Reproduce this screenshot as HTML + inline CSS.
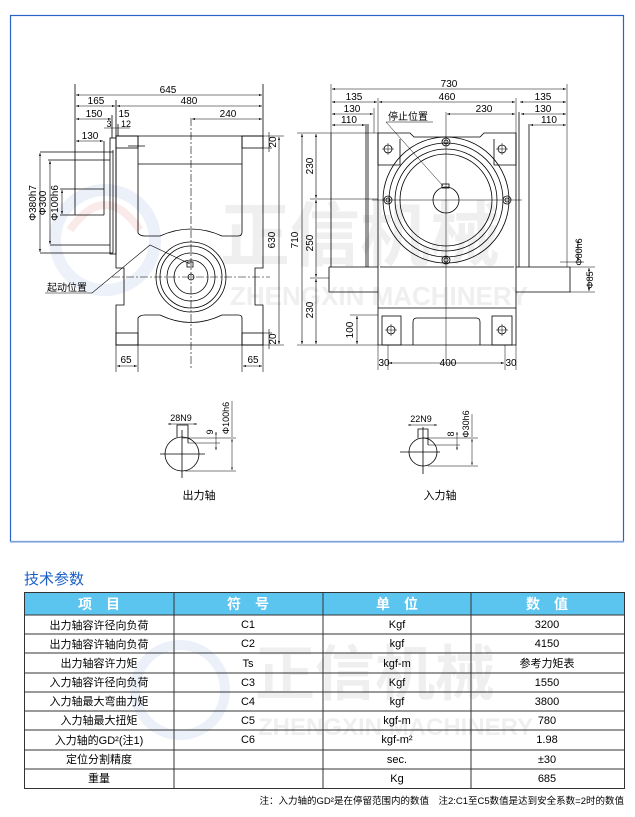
<!DOCTYPE html>
<html><head><meta charset="utf-8"><style>
html,body{margin:0;padding:0;background:#fff;}
body{width:635px;height:812px;position:relative;overflow:hidden;font-family:"Liberation Sans","Noto Sans CJK SC",sans-serif;}
svg text{font-family:"Liberation Sans","Noto Sans CJK SC",sans-serif;}
</style></head><body>
<svg width="635" height="812" viewBox="0 0 635 812" xmlns="http://www.w3.org/2000/svg">
<defs>
<marker id="a" viewBox="0 0 6 6" refX="6" refY="3" markerWidth="5" markerHeight="5" orient="auto-start-reverse"><path d="M0,1 L6,3 L0,5z" fill="#000"/></marker>
</defs>
<rect x="10.5" y="15.5" width="613" height="526" fill="none" stroke="#2a62c8" stroke-width="1.2"/>
<line x1="10" y1="542" x2="624" y2="542" stroke="#9bb8e6" stroke-width="1.5"/>
<g opacity="0.09">
<text x="220" y="260" font-size="70" font-weight="bold" fill="#555" font-family="'Noto Sans CJK SC',sans-serif">正信机械</text>
<text x="230" y="305" font-size="26" font-weight="bold" fill="#555">ZHENGXIN MACHINERY</text>
<circle cx="105" cy="240" r="50" fill="none" stroke="#2a62c8" stroke-width="12"/>
<path d="M70,230 Q105,180 140,230" fill="none" stroke="#d02020" stroke-width="8"/>
<text x="255" y="695" font-size="60" font-weight="bold" fill="#555" font-family="'Noto Sans CJK SC',sans-serif">正信机械</text>
<text x="258" y="735" font-size="24" font-weight="bold" fill="#555">ZHENGXIN MACHINERY</text>
<circle cx="180" cy="690" r="45" fill="none" stroke="#2a62c8" stroke-width="10"/>
</g>

<g stroke="#000" stroke-width="0.8" fill="none">
<path d="M116,136 H263 V268 H255 V305 H263 V345 H116 V305 H124 V268 H116 Z"/>
<rect x="116" y="136" width="22" height="12"/>
<rect x="242" y="136" width="21" height="12"/>
<rect x="116" y="333" width="22" height="12"/>
<rect x="242" y="333" width="21" height="12"/>
<path d="M138,136 V233 Q140,236 145,236 H160 Q191,222 222,236 H238 Q242,236 242,232 V136"/>
<line x1="138" y1="164" x2="242" y2="164"/>
<path d="M138,345 V318 Q140,315 145,315 H160 Q191,330 222,315 H238 Q242,315 242,318 V345"/>
<rect x="110" y="138" width="6" height="116"/>
<line x1="113" y1="150" x2="113" y2="253"/>
<line x1="40" y1="152" x2="113" y2="152"/>
<line x1="40" y1="253" x2="113" y2="253"/>
<line x1="48" y1="160" x2="110" y2="160"/>
<line x1="50" y1="245" x2="110" y2="245"/>
<line x1="104" y1="141" x2="104" y2="215"/>
<line x1="75" y1="84" x2="75" y2="215"/>
<line x1="60" y1="189" x2="104" y2="189"/>
<line x1="60" y1="215" x2="104" y2="215"/>
<line x1="263" y1="84" x2="263" y2="136"/>
<line x1="116" y1="100" x2="116" y2="136"/>
<line x1="112" y1="115" x2="112" y2="138"/>
<line x1="118" y1="124" x2="118" y2="136"/>
<line x1="128" y1="146" x2="145" y2="146"/>
<circle cx="191" cy="277" r="35"/>
<circle cx="191" cy="277" r="31"/>
<circle cx="191" cy="277" r="24"/>
<circle cx="191" cy="277" r="17"/>
<circle cx="191" cy="277" r="3"/>
<rect x="187" y="262" width="6" height="5"/>
</g>
<g stroke="#000" stroke-width="0.6" fill="none" stroke-dasharray="8,2,2,2">
<line x1="191" y1="118" x2="191" y2="368"/>
<line x1="112" y1="277" x2="270" y2="277"/>
</g>
<g stroke="#000" stroke-width="0.6" marker-start="url(#a)" marker-end="url(#a)">
<line x1="76" y1="95" x2="262" y2="95"/>
<line x1="76" y1="106" x2="115" y2="106"/>
<line x1="117" y1="106" x2="262" y2="106"/>
<line x1="76" y1="119" x2="111" y2="119"/>
<line x1="192" y1="119" x2="262" y2="119"/>
<line x1="76" y1="141" x2="103" y2="141"/>
<line x1="40" y1="153" x2="40" y2="252"/>
<line x1="50" y1="161" x2="50" y2="244"/>
<line x1="62" y1="190" x2="62" y2="214"/>
<line x1="279" y1="137" x2="279" y2="344"/>
<line x1="117" y1="366" x2="137" y2="366"/>
<line x1="243" y1="366" x2="262" y2="366"/>
</g>
<g stroke="#000" stroke-width="0.6">
<line x1="263" y1="136" x2="284" y2="136"/><line x1="263" y1="148" x2="272" y2="148"/>
<line x1="263" y1="333" x2="272" y2="333"/><line x1="263" y1="345" x2="284" y2="345"/>
<line x1="269" y1="132" x2="269" y2="152"/><line x1="269" y1="329" x2="269" y2="349"/>
<line x1="116" y1="345" x2="116" y2="372"/><line x1="138" y1="345" x2="138" y2="372"/>
<line x1="242" y1="345" x2="242" y2="372"/><line x1="263" y1="345" x2="263" y2="372"/>
<line x1="104" y1="128" x2="130" y2="128"/>
<polyline points="45,293 92,293 150,245 190,264" fill="none"/>
</g>
<g font-size="10" fill="#000" text-anchor="middle">
<text x="168" y="93">645</text>
<text x="96" y="104">165</text><text x="189" y="104">480</text>
<text x="94" y="117">150</text><text x="124" y="117">15</text>
<text x="228" y="117">240</text>
<text x="109" y="127" font-size="9">3</text><text x="126" y="127" font-size="9">12</text>
<text x="90" y="139">130</text>
<text x="36" y="203" transform="rotate(-90 36 203)">Φ380h7</text>
<text x="46" y="203" transform="rotate(-90 46 203)">Φ300</text>
<text x="58" y="203" transform="rotate(-90 58 203)">Φ100h6</text>
<text x="276" y="142" transform="rotate(-90 276 142)">20</text>
<text x="276" y="339" transform="rotate(-90 276 339)">20</text>
<text x="275" y="240" transform="rotate(-90 275 240)">630</text>
<text x="126" y="363">65</text><text x="253" y="363">65</text>
<text x="67" y="291" font-size="10">起动位置</text>
</g>

<g stroke="#000" stroke-width="0.8" fill="none">
<path d="M378,345 V133 H410 L414,137 H480 L484,133 H516 V345 Z"/>
<line x1="380" y1="267" x2="514" y2="267"/>
<path d="M329,267 H378 M516,267 H570 V292 H516 M378,292 H329 V267"/>
<line x1="331" y1="133" x2="331" y2="267"/>
<line x1="366" y1="124" x2="366" y2="267"/>
<line x1="368" y1="124" x2="368" y2="267"/>
<line x1="529" y1="124" x2="529" y2="267"/>
<line x1="519" y1="112" x2="519" y2="267"/>
<line x1="378" y1="308" x2="516" y2="308"/>
<path d="M413,345 V322 Q413,318 417,318 H476 Q480,318 480,322 V345"/>
<rect x="382" y="316" width="19" height="29"/>
<rect x="492" y="316" width="20" height="29"/>
<path d="M378,133 V165 H400 V139"/><path d="M516,133 V165 H494 V139"/>
<circle cx="446" cy="200" r="63"/>
<circle cx="446" cy="200" r="57"/>
<circle cx="446" cy="200" r="51"/>
<circle cx="446" cy="200" r="46"/>
<circle cx="446" cy="200" r="13"/>
<rect x="442" y="184" width="7" height="4"/>
<circle cx="446" cy="142" r="4"/><circle cx="446" cy="260" r="4"/>
<circle cx="388" cy="200" r="4"/><circle cx="507" cy="200" r="4"/>
<circle cx="446" cy="142" r="2"/><circle cx="446" cy="260" r="2"/>
<circle cx="388" cy="200" r="2"/><circle cx="507" cy="200" r="2"/>
<circle cx="388" cy="149" r="4"/><circle cx="502" cy="149" r="4"/>
<circle cx="391" cy="330" r="4"/><circle cx="502" cy="330" r="4"/>
</g>
<g stroke="#000" stroke-width="0.5">
<line x1="446" y1="112" x2="446" y2="360"/><line x1="372" y1="200" x2="522" y2="200"/>
<line x1="382" y1="149" x2="394" y2="149"/><line x1="388" y1="143" x2="388" y2="155"/>
<line x1="496" y1="149" x2="508" y2="149"/><line x1="502" y1="143" x2="502" y2="155"/>
<line x1="385" y1="330" x2="397" y2="330"/><line x1="391" y1="324" x2="391" y2="336"/>
<line x1="496" y1="330" x2="508" y2="330"/><line x1="502" y1="324" x2="502" y2="336"/>
<line x1="331" y1="84" x2="331" y2="133"/><line x1="567" y1="84" x2="567" y2="267"/>
<line x1="378" y1="98" x2="378" y2="133"/><line x1="516" y1="98" x2="516" y2="133"/>
<line x1="374" y1="108" x2="374" y2="133"/>
<line x1="297" y1="133" x2="378" y2="133"/><line x1="297" y1="345" x2="378" y2="345"/>
<line x1="310" y1="199" x2="378" y2="199"/><line x1="310" y1="278" x2="329" y2="278"/>
<line x1="350" y1="315" x2="378" y2="315"/>
<line x1="378" y1="345" x2="378" y2="370"/><line x1="388" y1="345" x2="388" y2="370"/>
<line x1="505" y1="345" x2="505" y2="370"/><line x1="516" y1="345" x2="516" y2="370"/>
<line x1="570" y1="267" x2="595" y2="267"/><line x1="570" y1="292" x2="595" y2="292"/>
<line x1="560" y1="262" x2="584" y2="262"/>
<polyline points="386,122 433,122" /><line x1="386" y1="122" x2="443" y2="186"/>
</g>
<g stroke="#000" stroke-width="0.6" marker-start="url(#a)" marker-end="url(#a)">
<line x1="332" y1="89" x2="566" y2="89"/>
<line x1="332" y1="102" x2="377" y2="102"/>
<line x1="379" y1="102" x2="515" y2="102"/>
<line x1="520" y1="102" x2="566" y2="102"/>
<line x1="332" y1="114" x2="373" y2="114"/>
<line x1="447" y1="114" x2="515" y2="114"/>
<line x1="521" y1="114" x2="566" y2="114"/>
<line x1="332" y1="125" x2="365" y2="125"/>
<line x1="530" y1="125" x2="566" y2="125"/>
<line x1="302" y1="134" x2="302" y2="344"/>
<line x1="316" y1="134" x2="316" y2="198"/>
<line x1="316" y1="200" x2="316" y2="277"/>
<line x1="316" y1="279" x2="316" y2="344"/>
<line x1="357" y1="316" x2="357" y2="344"/>
<line x1="389" y1="363" x2="504" y2="363"/>
<line x1="578" y1="240" x2="578" y2="261"/>
<line x1="589" y1="268" x2="589" y2="291"/>
</g>
<g font-size="10" fill="#000" text-anchor="middle">
<text x="449" y="87">730</text>
<text x="354" y="100">135</text><text x="447" y="100">460</text><text x="543" y="100">135</text>
<text x="352" y="112">130</text><text x="484" y="112">230</text><text x="543" y="112">130</text>
<text x="349" y="123">110</text><text x="549" y="123">110</text>
<text x="408" y="120">停止位置</text>
<text x="298" y="240" transform="rotate(-90 298 240)">710</text>
<text x="313" y="166" transform="rotate(-90 313 166)">230</text>
<text x="313" y="243" transform="rotate(-90 313 243)">250</text>
<text x="313" y="310" transform="rotate(-90 313 310)">230</text>
<text x="353" y="330" transform="rotate(-90 353 330)">100</text>
<text x="384" y="366">30</text><text x="448" y="366">400</text><text x="511" y="366">30</text>
<text x="582" y="252" font-size="9" transform="rotate(-90 582 252)">Φ80h6</text>
<text x="593" y="280" font-size="9" transform="rotate(-90 593 280)">Φ85</text>
</g>

<g stroke="#000" stroke-width="0.8" fill="none">
<circle cx="182" cy="454" r="17"/>
<path d="M177,437 V425 H188 V443"/>
<line x1="160" y1="454" x2="205" y2="454"/><line x1="182" y1="430" x2="182" y2="478"/>
<circle cx="423" cy="452" r="14"/>
<path d="M418,438 V429 H428 V445"/>
<line x1="400" y1="452" x2="440" y2="452"/><line x1="423" y1="427" x2="423" y2="474"/>
</g>
<g stroke="#000" stroke-width="0.5">
<line x1="182" y1="438" x2="236" y2="438"/><line x1="188" y1="443" x2="220" y2="443"/>
<line x1="185" y1="471" x2="236" y2="471"/>
<line x1="423" y1="438" x2="478" y2="438"/><line x1="428" y1="445" x2="460" y2="445"/>
<line x1="428" y1="466" x2="478" y2="466"/>
<line x1="232" y1="401" x2="232" y2="437"/><line x1="472" y1="414" x2="472" y2="437"/>
</g>
<g stroke="#000" stroke-width="0.5" marker-start="url(#a)" marker-end="url(#a)">
<line x1="168" y1="424" x2="197" y2="424"/>
<line x1="408" y1="425" x2="437" y2="425"/>
<line x1="232" y1="439" x2="232" y2="470"/>
<line x1="472" y1="439" x2="472" y2="465"/>
<line x1="216" y1="432" x2="216" y2="450"/>
<line x1="457" y1="432" x2="457" y2="450"/>
</g>
<g font-size="9" fill="#000" text-anchor="middle">
<text x="181" y="421">28N9</text><text x="421" y="422">22N9</text>
<text x="213" y="432" transform="rotate(-90 213 432)">9</text>
<text x="454" y="434" transform="rotate(-90 454 434)">8</text>
<text x="229" y="418" transform="rotate(-90 229 418)">Φ100h6</text>
<text x="469" y="424" transform="rotate(-90 469 424)">Φ30h6</text>
<text x="199" y="499" font-size="11">出力轴</text>
<text x="440" y="499" font-size="11">入力轴</text>
</g>

<text x="24" y="584" font-size="15" fill="#1a5fc8" font-family="'Noto Sans CJK SC',sans-serif">技术参数</text>
<rect x="24" y="592" width="600" height="23" fill="#5bc4ef"/>
<g stroke="#333" stroke-width="1" fill="none">
<rect x="24.5" y="592.5" width="600" height="196"/>
<line x1="174" y1="592" x2="174" y2="789"/><line x1="323" y1="592" x2="323" y2="789"/><line x1="471" y1="592" x2="471" y2="789"/>
<line x1="24" y1="615" x2="624" y2="615"/>
<line x1="24" y1="634" x2="624" y2="634"/><line x1="24" y1="653" x2="624" y2="653"/>
<line x1="24" y1="673" x2="624" y2="673"/><line x1="24" y1="692" x2="624" y2="692"/>
<line x1="24" y1="711" x2="624" y2="711"/><line x1="24" y1="730" x2="624" y2="730"/>
<line x1="24" y1="750" x2="624" y2="750"/><line x1="24" y1="769" x2="624" y2="769"/>
</g>
<g font-size="14" fill="#fff" text-anchor="middle" font-weight="bold">
<text x="99" y="609">项　目</text><text x="248" y="609">符　号</text><text x="397" y="609">单　位</text><text x="547" y="609">数　值</text>
</g>
<g font-size="11" fill="#000" text-anchor="middle">
<text x="99" y="629">出力轴容许径向负荷</text><text x="248" y="628">C1</text><text x="397" y="628">Kgf</text><text x="547" y="628">3200</text>
<text x="99" y="648">出力轴容许轴向负荷</text><text x="248" y="647">C2</text><text x="397" y="647">kgf</text><text x="547" y="647">4150</text>
<text x="99" y="667">出力轴容许力矩</text><text x="248" y="667">Ts</text><text x="397" y="667">kgf-m</text><text x="547" y="667">参考力矩表</text>
<text x="99" y="686">入力轴容许径向负荷</text><text x="248" y="686">C3</text><text x="397" y="686">Kgf</text><text x="547" y="686">1550</text>
<text x="99" y="705">入力轴最大弯曲力矩</text><text x="248" y="705">C4</text><text x="397" y="705">kgf</text><text x="547" y="705">3800</text>
<text x="99" y="724">入力轴最大扭矩</text><text x="248" y="724">C5</text><text x="397" y="724">kgf-m</text><text x="547" y="724">780</text>
<text x="99" y="744">入力轴的GD²(注1)</text><text x="248" y="743">C6</text><text x="397" y="743">kgf-m²</text><text x="547" y="743">1.98</text>
<text x="99" y="763">定位分割精度</text><text x="397" y="763">sec.</text><text x="547" y="763">±30</text>
<text x="99" y="782">重量</text><text x="397" y="782">Kg</text><text x="547" y="782">685</text>
</g>
<text x="624" y="804" font-size="9.5" fill="#000" text-anchor="end">注：入力轴的GD²是在停留范围内的数值　注2:C1至C5数值是达到安全系数=2时的数值</text>
</svg>
</body></html>
